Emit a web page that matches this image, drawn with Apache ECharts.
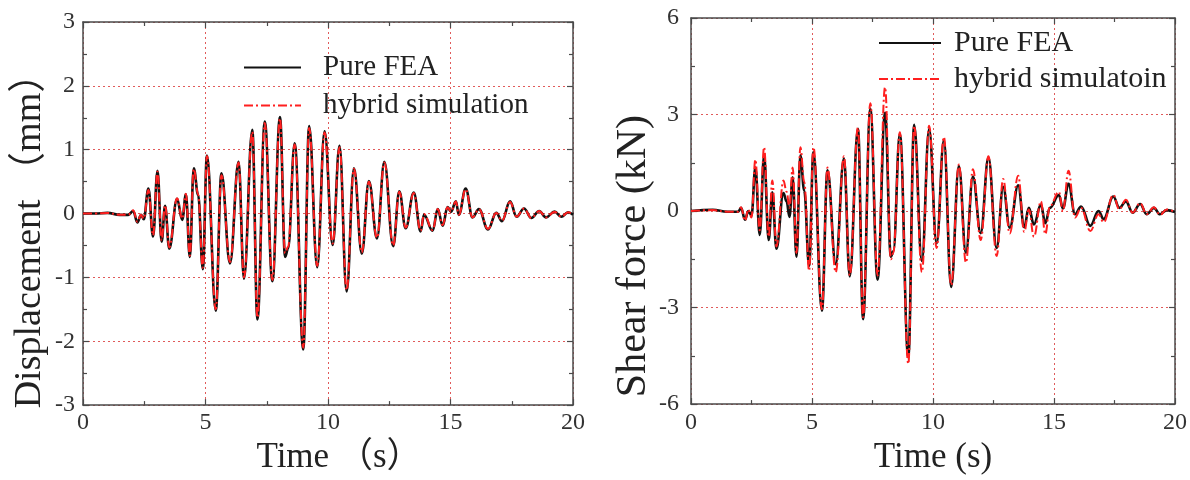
<!DOCTYPE html>
<html><head><meta charset="utf-8">
<script src="https://cdn.jsdelivr.net/npm/echarts@6/dist/echarts.min.js"></script>
<style>html,body{margin:0;padding:0;background:#fff}#c{width:1190px;height:480px}</style>
</head><body><div id="c"></div>
<script>
// ---- Left panel: displacement (mm) ----
const leftTime = [0,0.5,1.0,1.5,1.85,2.05,2.22,2.37,2.48,2.67,2.86,3.04,3.21,3.35,3.52,3.84,4.05,4.2,4.36,4.52,4.7,4.89,5.06,5.42,5.65,6.0,6.35,6.57,6.91,7.12,7.42,7.73,8.04,8.25,8.37,8.64,8.99,9.23,9.56,9.86,10.19,10.47,10.76,11.06,11.38,11.67,12.0,12.3,12.66,12.91,13.17,13.5,13.78,13.92,14.27,14.48,14.68,14.88,15.02,15.22,15.34,15.62,15.9,16.16,16.53,16.87,17.1,17.43,17.7,18.0,18.3,18.62,18.9,19.25,19.52,19.8,20.0];
const leftFEA = [0,0.0,0.01,-0.02,-0.02,0.04,-0.14,-0.02,-0.09,0.39,-0.36,0.67,-0.44,0.12,-0.55,0.23,-0.1,0.3,-0.68,0.71,0.29,-0.87,0.91,-1.52,0.63,-0.78,0.81,-1.02,1.31,-1.66,1.44,-1.06,1.51,-0.68,-0.55,1.1,-2.13,1.37,-0.84,1.29,-0.49,1.06,-1.22,0.71,-0.63,0.51,-0.39,0.81,-0.51,0.35,-0.23,0.33,-0.28,-0.02,-0.27,0.07,-0.19,0.1,0.03,0.19,-0.02,0.39,-0.06,0.07,-0.25,0.01,-0.12,0.19,-0.05,0.08,-0.07,0.04,-0.06,0.03,-0.05,0.02,-0.02];
const leftHybrid = [0,0.0,0.01,-0.02,-0.02,0.05,-0.13,-0.02,-0.08,0.37,-0.34,0.66,-0.42,0.13,-0.53,0.24,-0.08,0.31,-0.66,0.7,0.3,-0.85,0.9,-1.5,0.6,-0.76,0.8,-1.0,1.28,-1.63,1.42,-1.04,1.49,-0.62,-0.52,1.08,-2.1,1.34,-0.82,1.27,-0.47,1.04,-1.2,0.7,-0.61,0.5,-0.38,0.8,-0.5,0.34,-0.22,0.32,-0.27,-0.01,-0.26,0.07,-0.18,0.1,0.03,0.19,-0.02,0.38,-0.06,0.07,-0.24,0.01,-0.11,0.18,-0.05,0.08,-0.07,0.04,-0.06,0.03,-0.05,0.02,-0.02];
// ---- Right panel: shear force (kN) ----
const rightTime = [0,0.9,1.5,1.95,2.07,2.23,2.37,2.5,2.66,2.84,3.02,3.21,3.36,3.53,3.82,3.95,4.07,4.2,4.36,4.52,4.68,4.88,5.06,5.41,5.64,5.98,6.32,6.56,6.9,7.11,7.41,7.71,8.02,8.26,8.36,8.63,8.98,9.22,9.54,9.84,10.15,10.45,10.75,11.07,11.36,11.65,11.97,12.29,12.63,12.9,13.17,13.52,13.77,13.96,14.17,14.46,14.64,14.83,15.2,15.37,15.6,15.87,16.12,16.5,16.84,17.05,17.45,17.7,17.97,18.25,18.56,18.83,19.13,19.38,19.66,20];
const rightFEA = [0,0.04,-0.02,-0.02,0.1,-0.27,0.0,-0.14,1.35,-0.74,1.72,-0.9,0.58,-1.17,0.56,0.3,-0.18,1.05,-1.42,1.73,0.63,-1.7,1.83,-3.1,1.27,-1.65,1.63,-2.03,2.56,-3.36,3.18,-2.13,3.05,-1.42,-1.25,2.4,-4.55,2.68,-1.55,2.55,-1.0,2.2,-2.36,1.4,-1.3,1.07,-0.69,1.66,-1.15,0.75,-0.52,0.8,-0.5,0.1,-0.42,0.2,-0.38,0.1,0.5,0.08,0.85,-0.1,0.14,-0.46,0.0,-0.25,0.45,0.1,0.3,-0.05,0.22,-0.1,0.1,-0.1,0.03,-0.03];
const rightHybrid = [0,0.03,-0.02,-0.02,0.12,-0.3,0.05,-0.2,1.6,-0.6,1.98,-0.8,0.95,-1.1,0.95,0.6,0.1,1.35,-1.3,1.98,0.9,-1.85,1.98,-3.05,1.35,-1.9,1.7,-2.0,2.6,-3.3,3.35,-2.0,3.85,-1.5,-1.3,2.45,-4.75,2.65,-1.9,2.65,-1.15,2.3,-2.3,1.45,-1.6,1.3,-0.9,1.7,-1.4,1.0,-0.7,1.1,-0.65,0.05,-0.8,0.3,-0.72,0.15,0.6,0.0,1.25,-0.2,0.1,-0.62,-0.1,-0.35,0.5,0.05,0.35,-0.05,0.25,-0.1,0.12,-0.12,0.05,-0.03];

const font = '"Liberation Serif","Times New Roman","Noto Sans CJK SC",serif';
const pairs = (t, v) => t.map((x, i) => [x, v[i]]);
const axisColor = '#4a4a4a';
const gridLine = {show:true, lineStyle:{color:'#e05a5a', type:[2,3], width:1}};

function xAxes(g, name, gap, nameSize, labelMargin, namePad) {
  return [
    {gridIndex:g, type:'value', min:0, max:20, interval:5, position:'bottom',
     axisLine:{show:true, onZero:false, lineStyle:{color:axisColor, width:1.5}},
     axisTick:{inside:true, length:6, lineStyle:{color:axisColor, width:1.2}},
     minorTick:{show:true, splitNumber:2, length:4, lineStyle:{color:axisColor, width:1.2}},
     axisLabel:{color:'#333', fontFamily:font, fontSize:24, margin:labelMargin},
     splitLine:gridLine,
     name:name, nameLocation:'middle', nameGap:gap,
     nameTextStyle:{color:'#222', fontFamily:font, fontSize:nameSize, padding:namePad}},
    {gridIndex:g, type:'value', min:0, max:20, interval:5, position:'top',
     axisLine:{show:true, onZero:false, lineStyle:{color:axisColor, width:1.5}},
     axisTick:{inside:true, length:6, lineStyle:{color:axisColor, width:1.2}},
     minorTick:{show:true, splitNumber:2, length:4, lineStyle:{color:axisColor, width:1.2}},
     axisLabel:{show:false}, splitLine:{show:false}}
  ];
}
function yAxes(g, min, max, step, name, gap, nameSize, labelMargin, namePad) {
  return [
    {gridIndex:g, type:'value', min:min, max:max, interval:step, position:'left',
     axisLine:{show:true, onZero:false, lineStyle:{color:axisColor, width:1.5}},
     axisTick:{inside:true, length:6, lineStyle:{color:axisColor, width:1.2}},
     minorTick:{show:true, splitNumber:2, length:4, lineStyle:{color:axisColor, width:1.2}},
     axisLabel:{color:'#333', fontFamily:font, fontSize:24, margin:labelMargin},
     splitLine:gridLine,
     name:name, nameLocation:'middle', nameGap:gap, nameRotate:90,
     nameTextStyle:{color:'#222', fontFamily:font, fontSize:nameSize, padding:namePad}},
    {gridIndex:g, type:'value', min:min, max:max, interval:step, position:'right',
     axisLine:{show:true, onZero:false, lineStyle:{color:axisColor, width:1.5}},
     axisTick:{inside:true, length:6, lineStyle:{color:axisColor, width:1.2}},
     minorTick:{show:true, splitNumber:2, length:4, lineStyle:{color:axisColor, width:1.2}},
     axisLabel:{show:false}, splitLine:{show:false}}
  ];
}

const blackLine = {color:'#111', width:2.6, type:'solid'};
const redLine = {color:'#ff1f1f', width:2, type:[9,3,2,3]};
const common = {type:'line', symbol:'none', smooth:0.4, smoothMonotone:'x', animation:false, silent:true};

const legendText = {fontFamily:font, fontSize:29, color:'#222', padding:[0,0,0,17]};

const option = {
  animation:false,
  backgroundColor:'#fff',
  grid:[
    {left:83, top:22, width:490, height:398},
    {left:691, top:18, width:484, height:393}
  ],
  xAxis:[...xAxes(0, 'Time （s）', 19, 35, 6, [0,0,0,22]), ...xAxes(1, 'Time (s)', 31, 35, 7, 0)],
  yAxis:[...yAxes(0, -3, 3, 1, 'Displacement （mm）', 34, 38, 8, [0,36,0,0]),
         ...yAxes(1, -6, 6, 3, 'Shear force (kN)', 24, 42, 12, [0,90,0,0])],
  legend:[
    {data:['Pure FEA','hybrid simulation'], orient:'vertical', left:243, top:53, padding:0,
     itemWidth:57, itemHeight:24, itemGap:9, itemStyle:{opacity:0}, textStyle:legendText},
    {data:['Pure FEA R','hybrid simulatoin'], orient:'vertical', left:878, top:28, padding:0,
     itemWidth:62, itemHeight:24, itemGap:6, itemStyle:{opacity:0},
     textStyle:{...legendText, fontSize:30, padding:[0,0,0,8]},
     formatter: n => n === 'Pure FEA R' ? 'Pure FEA' : n}
  ],
  series:[
    {...common, name:'Pure FEA', xAxisIndex:0, yAxisIndex:0, data:pairs(leftTime, leftFEA), lineStyle:blackLine, color:'#111', z:2},
    {...common, name:'hybrid simulation', xAxisIndex:0, yAxisIndex:0, data:pairs(leftTime, leftHybrid), lineStyle:redLine, color:'#ff1f1f', z:3},
    {...common, name:'Pure FEA R', xAxisIndex:2, yAxisIndex:2, data:pairs(rightTime, rightFEA), lineStyle:blackLine, color:'#111', z:2},
    {...common, name:'hybrid simulatoin', xAxisIndex:2, yAxisIndex:2, data:pairs(rightTime, rightHybrid), lineStyle:redLine, color:'#ff1f1f', z:3}
  ]
};
const chart = echarts.init(document.getElementById('c'), null, {renderer:'canvas'});
chart.setOption(option);
</script></body></html>
